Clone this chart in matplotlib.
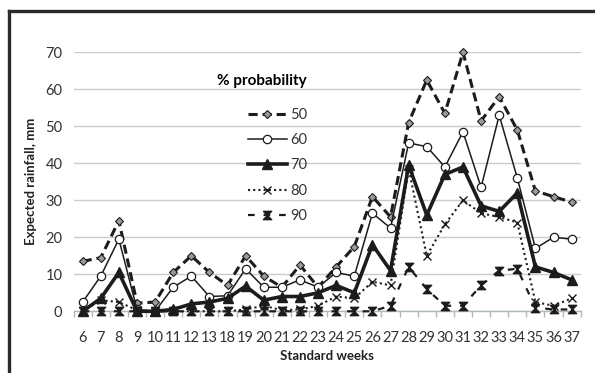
import matplotlib
matplotlib.use("Agg")
import matplotlib.pyplot as plt
from matplotlib.lines import Line2D
import numpy as np

weeks = ['6', '7', '8', '9', '10', '11', '12', '13', '18', '19', '20', '21', '22', '23',
         '24', '25', '26', '27', '28', '29', '30', '31', '32', '33', '34', '35', '36', '37']
p50 = [13.5, 14.5, 24.5, 2.2, 2.5, 10.5, 15, 10.5, 7, 15, 9.5, 6.5, 12.5, 6.5,
       12, 17.5, 31, 25.5, 51, 62.5, 53.5, 70, 51.5, 58, 49, 32.5, 31, 29.5]
p60 = [2.5, 9.5, 19.5, 0.5, 0, 6.5, 9.5, 4, 4.2, 11.5, 6.5, 6.5, 8.5, 6.5,
       10.5, 9.5, 26.5, 22.5, 45.5, 44.5, 39, 48.5, 33.5, 53, 36, 17, 20, 19.5]
p70 = [0, 3.5, 10.5, 0, 0, 0.5, 2, 2.5, 3.5, 6.8, 3, 4, 4, 5,
       7, 5, 18, 11, 39.5, 26, 37, 39, 28.5, 27, 32, 12, 10.5, 8.5]
p80 = [0, 3, 2.5, 0.3, 0, 0, 0, 0, 0, 0.5, 1.5, 0.3, 0.5, 1.5,
       4, 3.5, 8, 7, 38.5, 15, 23.5, 30, 26.5, 25.5, 24, 2.5, 1.5, 3.5]
p90 = [0, 0, 0, 0, 0, 0, 0, 0, 0, 0, 0, 0, 0, 0,
       0, 0, 0, 1.5, 12, 6, 1.5, 1.5, 7, 11, 11.5, 1, 0.5, 0.5]
series_labels = ['50', '60', '70', '80', '90']
yticks = [0, 10, 20, 30, 40, 50, 60, 70]

plt.rcParams['font.family'] = ['Lato', 'DejaVu Sans']

fig = plt.figure(figsize=(5.95, 3.73), dpi=100)
ax = fig.add_axes([73.6 / 595, 1 - 311.3 / 373, (580.7 - 73.6) / 595, (311.3 - 52.3) / 373])

x = np.arange(len(weeks))
ink = '#1c1c1c'
hourglass = [(-1, 1), (1, 1), (-1, -1), (1, -1), (-1, 1)]

ax.plot(x, p50, color=ink, lw=2.2, dashes=(3.0, 1.6), marker='D', ms=4,
        mfc='#9a9a9a', mec=ink, mew=0.8, label=series_labels[0], clip_on=False, zorder=3)
ax.plot(x, p60, color=ink, lw=1.1, marker='o', ms=6, mfc='white', mec=ink,
        mew=0.9, label=series_labels[1], clip_on=False, zorder=3)
ax.plot(x, p70, color=ink, lw=2.6, marker='^', ms=7, mfc=ink, mec=ink,
        label=series_labels[2], clip_on=False, zorder=4)
ax.plot(x, p80, color=ink, lw=1.5, ls=(0, (1, 1.5)), marker='x', ms=6, mew=1.0,
        label=series_labels[3], clip_on=False, zorder=4)
ax.plot(x, p90, color=ink, lw=1.6, ls=(0, (3, 4)), marker=hourglass, ms=6,
        mfc=ink, mec=ink, mew=1.0, label=series_labels[4], clip_on=False, zorder=5)

ax.set_xlim(-0.5, len(weeks) - 0.5)
ax.set_ylim(0, 70)
ax.set_yticks(yticks)
ax.set_yticklabels([str(v) for v in yticks])
ax.set_xticks(x)
ax.set_xticklabels(weeks)
ax.set_xticks(np.arange(-0.5, len(weeks), 1), minor=True)

ax.grid(axis='y', color='#c4d0c4', lw=1.0)
ax.set_axisbelow(True)
for s in ['top', 'right', 'left']:
    ax.spines[s].set_visible(False)
ax.spines['bottom'].set_color('#b0bcb0')
ax.spines['bottom'].set_linewidth(1.0)

ax.tick_params(axis='x', which='major', length=0, pad=14, labelsize=10.5, colors='#333333')
ax.tick_params(axis='x', which='minor', length=4, color='#b0bcb0', width=1.0)
ax.tick_params(axis='y', length=0, pad=8, labelsize=10.5, colors='#333333')

ax.set_ylabel('Expected rainfall, mm', fontsize=9.5, fontweight='bold', color='#222222', labelpad=6)
ax.set_xlabel('Standard weeks', fontsize=9.5, fontweight='bold', color='#222222', labelpad=4)

leg = ax.legend(loc='upper left', bbox_to_anchor=(210 / 595, 1 - 67 / 373),
                bbox_transform=fig.transFigure, frameon=False, title='% probability',
                alignment='right', fontsize=10.5, handlelength=2.7, handletextpad=0.2,
                labelspacing=0.78, borderpad=0)
leg.get_title().set_fontweight('bold')
leg.get_title().set_fontsize(11)
leg._legend_box.sep = 14
for t in leg.get_texts():
    t.set_color('#333333')

# outer frame lines (top and left)
fig.add_artist(Line2D([9 / 595, 1.0], [1 - 10.5 / 373, 1 - 10.5 / 373], color='#2a2a2a', lw=2.4,
                      transform=fig.transFigure))
fig.add_artist(Line2D([9 / 595, 9 / 595], [0, 1 - 10.5 / 373], color='#2a2a2a', lw=2.4,
                      transform=fig.transFigure))

fig.savefig('out.png', dpi=100)
